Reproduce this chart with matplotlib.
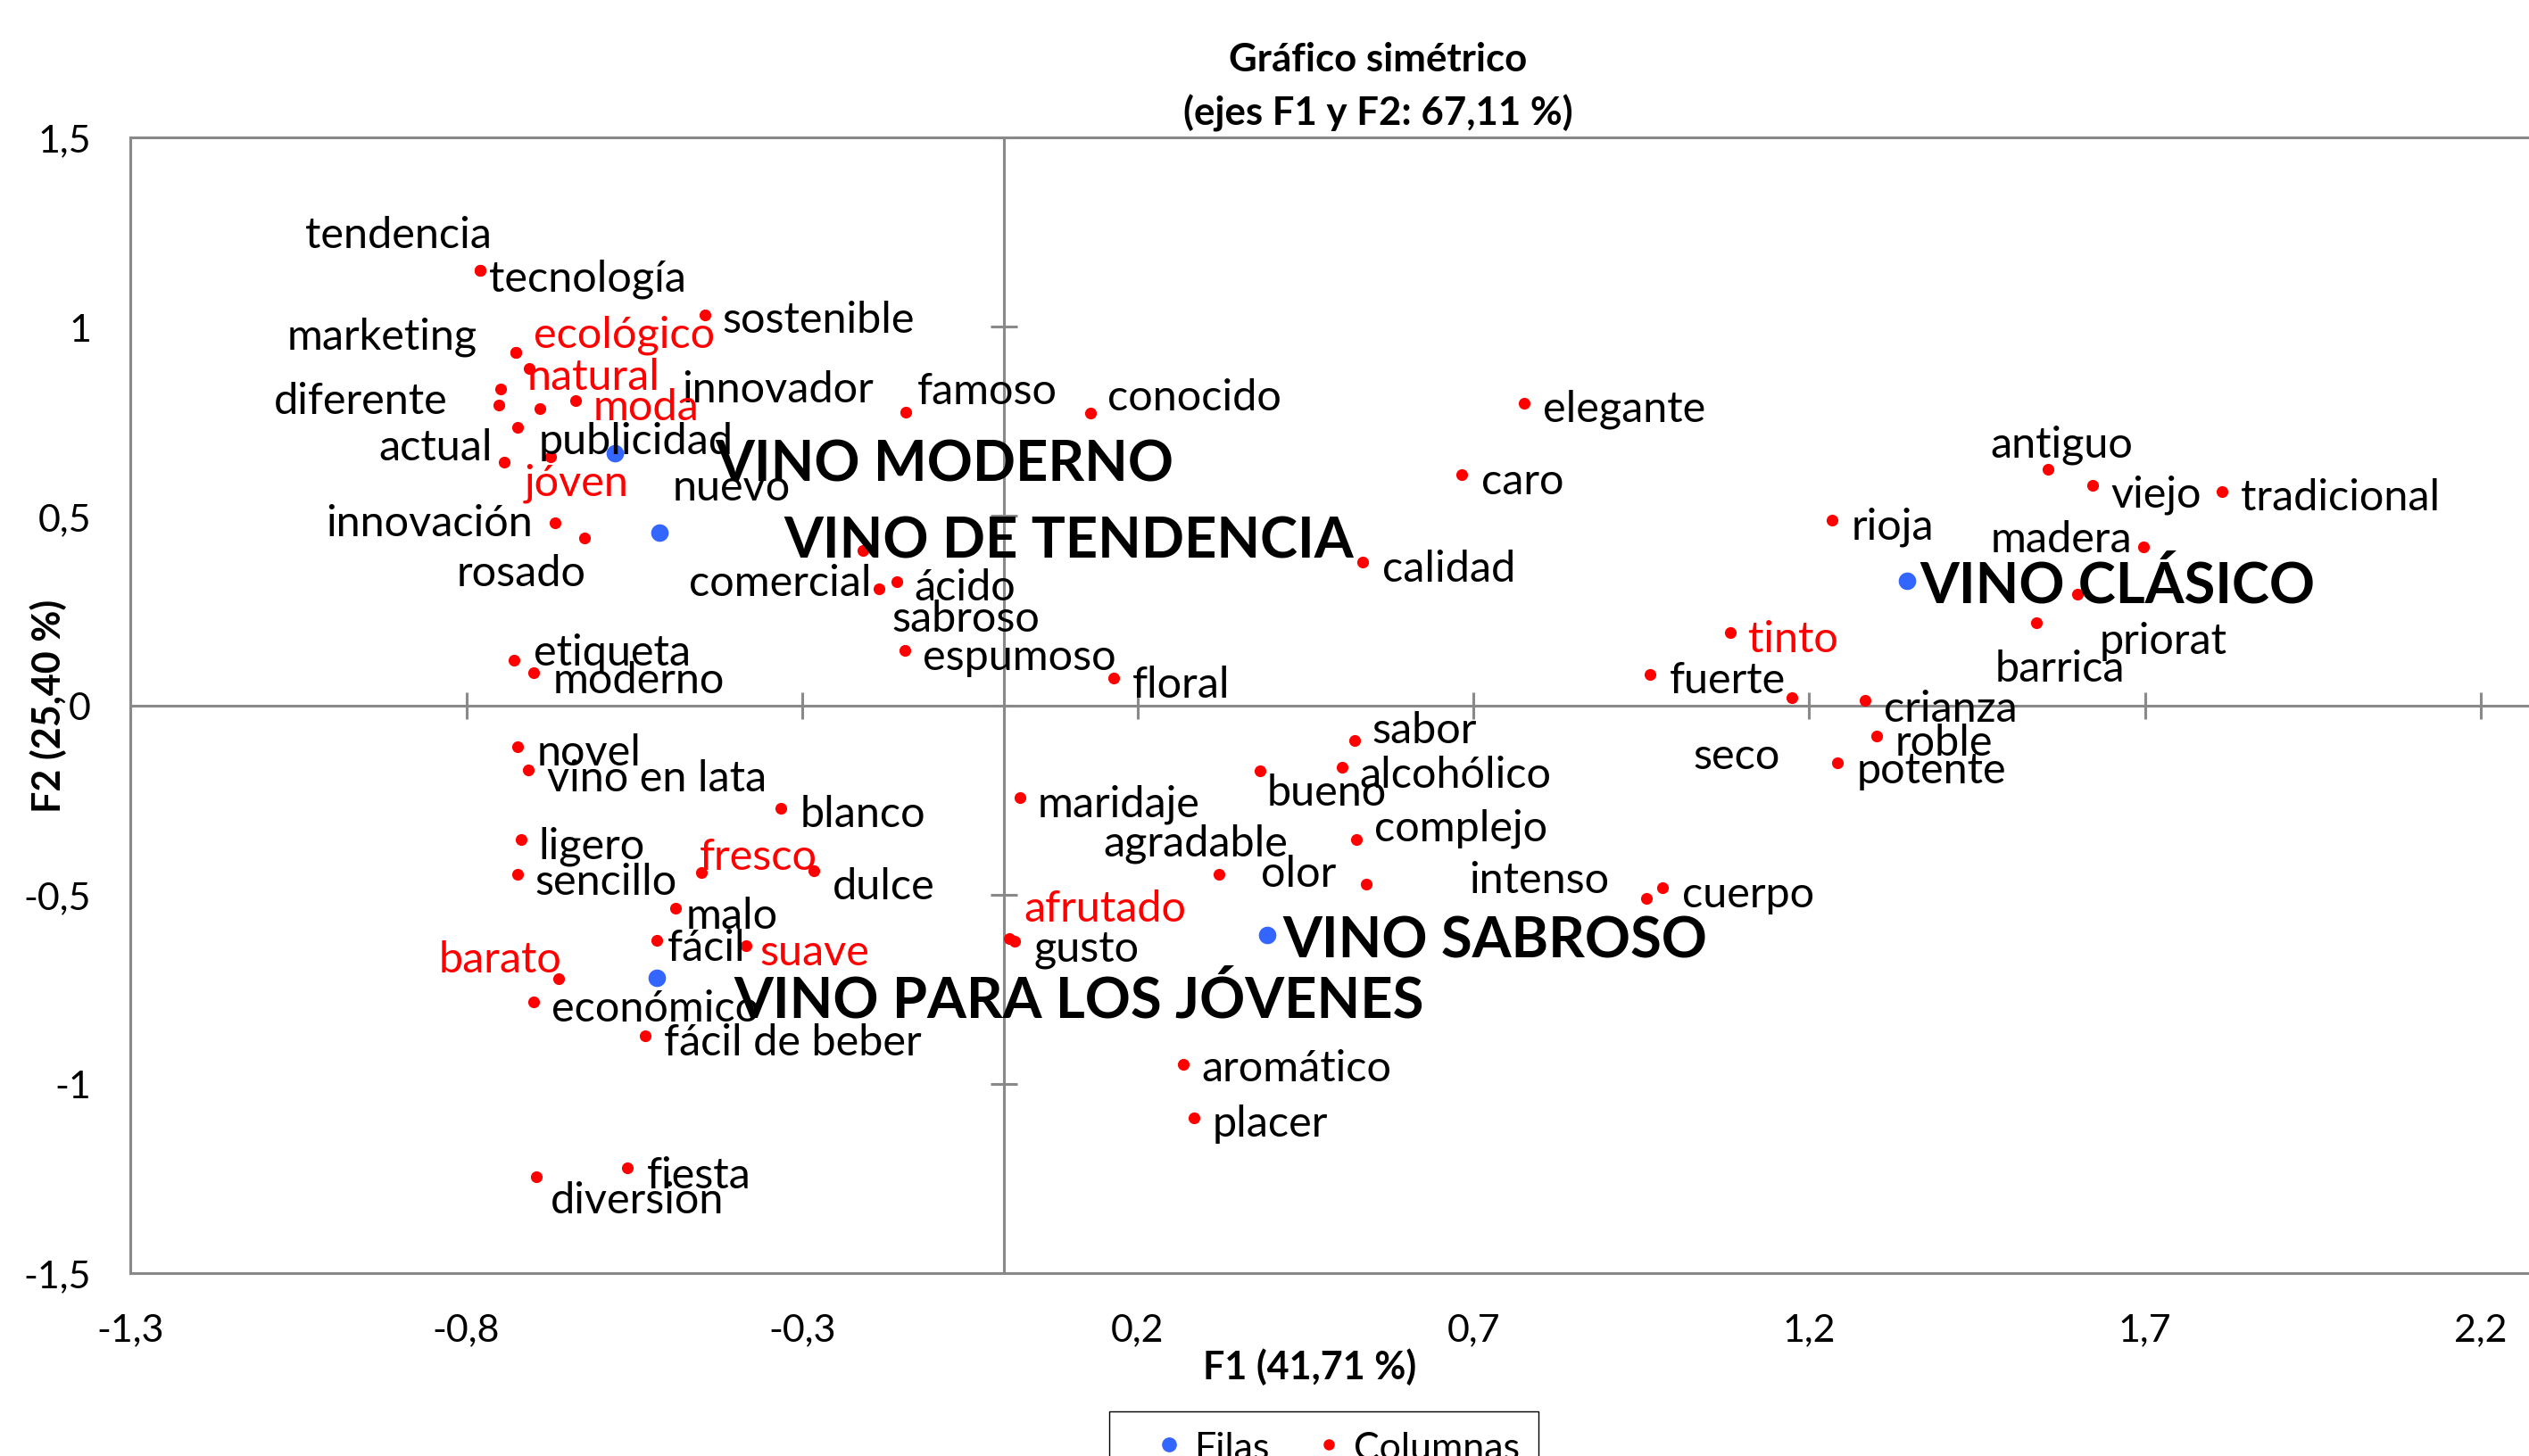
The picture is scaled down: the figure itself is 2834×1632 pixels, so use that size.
import matplotlib
matplotlib.use('Agg')
import matplotlib.pyplot as plt
from matplotlib.lines import Line2D

plt.rcParams['font.family'] = ['Lato', 'DejaVu Sans']

GREY = '#898989'
RED = '#FF0000'
BLUE = '#3366FF'

# filas
row_names = ['VINO MODERNO', 'VINO DE TENDENCIA', 'VINO CLÁSICO',
             'VINO SABROSO', 'VINO PARA LOS JÓVENES']
row_f1 = [-0.579, -0.513, 1.346, 0.393, -0.516]
row_f2 = [0.666, 0.456, 0.328, -0.607, -0.720]

# columnas
col_names = ['tendencia', 'tecnología', 'marketing', 'ecológico', 'natural',
             'diferente', 'nuevo', 'innovador', 'moda', 'publicidad',
             'actual', 'jóven', 'innovación', 'rosado', 'sostenible',
             'famoso', 'conocido', 'elegante', 'caro', 'calidad',
             'comercial', 'ácido', 'sabroso', 'espumoso', 'floral',
             'antiguo', 'viejo', 'tradicional', 'rioja', 'madera',
             'priorat', 'barrica', 'tinto', 'fuerte', 'seco',
             'crianza', 'roble', 'potente', 'etiqueta', 'moderno',
             'novel', 'vino en lata', 'blanco', 'ligero', 'sencillo',
             'fresco', 'dulce', 'malo', 'fácil', 'suave',
             'barato', 'económico', 'fácil de beber', 'fiesta', 'diversion',
             'sabor', 'alcohólico', 'bueno', 'maridaje', 'complejo',
             'agradable', 'olor', 'intenso', 'cuerpo', 'afrutado',
             'gusto', 'aromático', 'placer']
col_f1 = [-0.780, -0.780, -0.726, -0.726, -0.707,
          -0.749, -0.752, -0.691, -0.637, -0.724,
          -0.743, -0.674, -0.668, -0.624, -0.445,
          -0.145, 0.129, 0.776, 0.683, 0.535,
          -0.185, -0.159, -0.210, -0.147, 0.164,
          1.556, 1.622, 1.815, 1.234, 1.698,
          1.599, 1.539, 1.082, 0.963, 1.174,
          1.283, 1.300, 1.242, -0.729, -0.700,
          -0.724, -0.708, -0.331, -0.719, -0.724,
          -0.450, -0.282, -0.489, -0.516, -0.384,
          -0.662, -0.700, -0.533, -0.560, -0.696,
          0.523, 0.505, 0.382, 0.024, 0.525,
          0.321, 0.540, 0.957, 0.982, 0.009,
          0.016, 0.268, 0.284]
col_f2 = [1.150, 1.150, 0.933, 0.933, 0.890,
          0.835, 0.793, 0.784, 0.805, 0.735,
          0.643, 0.656, 0.481, 0.443, 1.031,
          0.775, 0.772, 0.798, 0.609, 0.379,
          0.307, 0.326, 0.409, 0.145, 0.072,
          0.624, 0.580, 0.564, 0.490, 0.418,
          0.294, 0.217, 0.192, 0.082, 0.019,
          0.013, -0.082, -0.153, 0.119, 0.085,
          -0.109, -0.170, -0.273, -0.354, -0.446,
          -0.441, -0.437, -0.536, -0.622, -0.634,
          -0.723, -0.784, -0.873, -1.223, -1.246,
          -0.094, -0.164, -0.173, -0.243, -0.355,
          -0.447, -0.473, -0.511, -0.481, -0.616,
          -0.624, -0.948, -1.089]

red_names = ['ecológico', 'natural', 'moda', 'jóven', 'fresco', 'barato',
             'suave', 'afrutado', 'tinto']

x_ticks = [-1.3, -0.8, -0.3, 0.2, 0.7, 1.2, 1.7, 2.2]
y_ticks = [-1.5, -1, -0.5, 0, 0.5, 1, 1.5]

# desplazamiento de cada etiqueta respecto a su punto (dx, dy hacia abajo)
row_off = [(62, 3.4), (77.3, 2), (7.7, -1), (9.4, 0), (47.4, 10)]
col_off = [(-108.5, -24), (5.5, 3), (-142, -12), (11, -13), (-1, 3),
           (-140.5, 5), (108, 49), (88.5, -14), (11, 2), (13, 6.4),
           (-78, -11), (-16.6, 14), (-142, -2), (-79.5, 20), (11, 1),
           (7, -15), (11, -12), (11.6, 1.4), (11.7, 2), (12, 2),
           (-118, -6), (11, 1.5), (18, 40), (11, 2), (11.4, 2),
           (-36, -17.6), (11.4, 3), (11.3, 1.4), (12, 2), (-95, -7),
           (14, 27), (-26, 26), (11.5, 2), (12, 1.3), (-61, 33.5),
           (11.7, 3), (11.6, 1.7), (11.7, 2.2), (12.3, -7), (12, 2),
           (12.2, 1.5), (11.5, 3), (11.5, 1), (11, 2), (11, 2.3),
           (-1, -11.6), (11.3, 7.4), (6.4, 2.3), (6.4, 2), (8.7, 2.2),
           (-74.5, -14.6), (11.3, 2), (11.5, 2), (11.8, 2), (8.6, 12.5),
           (11, -9), (10.7, 2.4), (4, 11.3), (11, 2), (11.4, -9.4),
           (-71.7, -21.8), (-65, -9), (-109.5, -14), (12, 2.2), (9, -20.5),
           (12, 2.5), (11.2, 0.6), (11.4, 1.4)]
k = 1.807


def coma(v):
    return ('%g' % v).replace('.', ',')


fig = plt.figure(figsize=(28.34, 16.33), dpi=100)
ax = fig.add_axes([146.4 / 2834, 1 - 1428 / 1633, 4 * 752.4 / 2834, 1273 / 1633])
ax.set_xlim(-1.3, 2.7)
ax.set_ylim(-1.5, 1.5)

for s in ['left', 'bottom', 'top', 'right']:
    ax.spines[s].set_color(GREY)
    ax.spines[s].set_linewidth(2.2)

ax.axhline(0, color=GREY, lw=2.2, zorder=1)
ax.axvline(0, color=GREY, lw=2.2, zorder=1)
ax.plot(x_ticks, [0] * len(x_ticks), ls='none', marker='|', ms=21.6, mew=2.2,
        color=GREY, zorder=1)
ax.plot([0] * len(y_ticks), y_ticks, ls='none', marker='_', ms=21.6, mew=2.2,
        color=GREY, zorder=1)

ax.set_xticks(x_ticks)
ax.set_xticklabels([coma(v) for v in x_ticks])
ax.set_yticks(y_ticks)
ax.set_yticklabels([coma(v) for v in y_ticks])
ax.tick_params(length=0, pad=32, labelsize=31)

ax.scatter(col_f1, col_f2, s=90, color=RED, zorder=3, linewidths=0)
ax.scatter(row_f1, row_f2, s=200, color=BLUE, zorder=3, linewidths=0)

for name, x, y, (dx, dy) in zip(col_names, col_f1, col_f2, col_off):
    ax.annotate(name, (x, y), xytext=(dx * k, -(dy + 2) * k), textcoords='offset pixels',
                ha='left', va='center', fontsize=35,
                color=RED if name in red_names else 'black', zorder=5)

for name, x, y, (dx, dy) in zip(row_names, row_f1, row_f2, row_off):
    ax.annotate(name, (x, y), xytext=(dx * k, -(dy + 3.5) * k), textcoords='offset pixels',
                ha='left', va='center', fontsize=45.5, fontweight='bold',
                color='black', zorder=5)

ax.set_xlabel('F1 (41,71 %)', fontsize=31, fontweight='bold')
ax.xaxis.label.set_va('center')
ax.xaxis.set_label_coords(1321.2 / 3009.6, -0.0817)
ax.set_ylabel('F2 (25,40 %)', fontsize=31, fontweight='bold')
ax.yaxis.label.set_va('center')
ax.yaxis.set_label_coords(-92.4 / 3009.6, 0.5)

fig.text(0.545, 1 - 67 / 1633, 'Gráfico simétrico', ha='center', va='center',
         fontsize=31.5, fontweight='bold')
fig.text(0.545, 1 - 127 / 1633, '(ejes F1 y F2: 67,11 %)', ha='center', va='center',
         fontsize=31.5, fontweight='bold')

handles = [Line2D([], [], ls='none', marker='o', ms=11, color=BLUE, label='Filas'),
           Line2D([], [], ls='none', marker='o', ms=8, color=RED, label='Columnas')]
fig.legend(handles=handles, ncol=2, loc='upper center', bbox_to_anchor=(0.5235, 0.0306),
           frameon=True, fancybox=False, edgecolor='black', framealpha=1,
           borderpad=0.5, borderaxespad=0, handletextpad=-0.4, columnspacing=0.5,
           handlelength=2.1, fontsize=31)

fig.savefig('out.png', dpi=100)
